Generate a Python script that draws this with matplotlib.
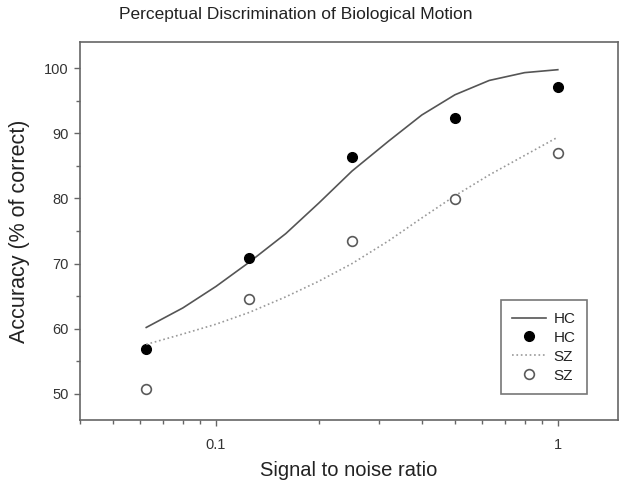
import matplotlib
matplotlib.use("Agg")
import matplotlib.pyplot as plt
from matplotlib.ticker import FixedLocator, NullFormatter, FixedFormatter

plt.rcParams['font.family'] = ['Liberation Sans', 'DejaVu Sans']

# Observed data
snr = [0.0625, 0.125, 0.25, 0.5, 1.0]
hc_acc = [56.85, 70.9, 86.4, 92.3, 97.1]
sz_acc = [50.8, 64.5, 73.4, 79.85, 87.0]

# Fitted curves
fit_x = [0.0625, 0.08, 0.1, 0.125, 0.16, 0.2, 0.25, 0.32, 0.4, 0.5, 0.63, 0.8, 1.0]
hc_fit = [60.2, 63.2, 66.5, 70.2, 74.6, 79.3, 84.2, 88.8, 92.8, 95.9, 98.1, 99.3, 99.75]
sz_fit = [57.6, 59.2, 60.7, 62.5, 64.9, 67.3, 70.0, 73.5, 77.0, 80.4, 83.6, 86.6, 89.4]

x_major = [0.1, 1]
x_major_labels = ['0.1', '1']
x_minor = [0.04, 0.05, 0.06, 0.07, 0.08, 0.09, 0.2, 0.3, 0.4, 0.5, 0.6, 0.7, 0.8, 0.9]
y_major = [50, 60, 70, 80, 90, 100]
y_minor = [55, 65, 75, 85, 95]

fig = plt.figure(figsize=(6.3, 4.95), dpi=100)
ax = fig.add_axes([80/630, 75/495, 538/630, 378/495])

ax.plot(fit_x, hc_fit, '-', color='#555555', lw=1.2, label='HC')
ax.plot(snr, hc_acc, 'o', color='black', ms=7, ls='none', label='HC')
ax.plot(fit_x, sz_fit, ':', color='#999999', lw=1.2, label='SZ')
ax.plot(snr, sz_acc, 'o', mfc='white', mec='#5a5a5a', mew=1.2, ms=7, ls='none', label='SZ')

ax.set_xscale('log')
ax.set_xlim(0.04, 1.5)
ax.set_ylim(46, 104)

ax.xaxis.set_major_locator(FixedLocator(x_major))
ax.xaxis.set_major_formatter(FixedFormatter(x_major_labels))
ax.xaxis.set_minor_locator(FixedLocator(x_minor))
ax.xaxis.set_minor_formatter(NullFormatter())
ax.yaxis.set_major_locator(FixedLocator(y_major))
ax.yaxis.set_minor_locator(FixedLocator(y_minor))

for s in ax.spines.values():
    s.set_color('#666666')
    s.set_linewidth(1.2)
ax.tick_params(which='major', direction='out', length=4, width=1, color='#666666',
               labelsize=10.5, labelcolor='#333333')
ax.tick_params(axis='x', which='major', pad=9)
ax.tick_params(axis='y', which='major', pad=4)
ax.tick_params(which='minor', direction='out', length=3, width=1, color='#666666')

ax.set_xlabel('Signal to noise ratio', fontsize=14.5, color='#222222')
ax.set_ylabel('Accuracy (% of correct)', fontsize=15.5, color='#222222')
ax.xaxis.set_label_coords(0.5, (420 - 470) / 378)
ax.xaxis.label.set_va('center')
ax.yaxis.set_label_coords((20 - 80) / 538, 0.5)
ax.yaxis.label.set_va('center')
fig.text(296/630, 1 - 15/495, 'Perceptual Discrimination of Biological Motion',
         ha='center', va='center', fontsize=12.5, color='#222222')

leg = ax.legend(loc='lower right', bbox_to_anchor=((587 - 80) / 538, (420 - 394) / 378),
                borderaxespad=0, fontsize=11,
                frameon=True, fancybox=False, edgecolor='#555555', handlelength=2.2,
                borderpad=0.75, labelspacing=0.32, handletextpad=0.5)
leg.get_frame().set_linewidth(1.2)
for t in leg.get_texts():
    t.set_color('#222222')

fig.savefig('out.png', dpi=100, facecolor='white')
